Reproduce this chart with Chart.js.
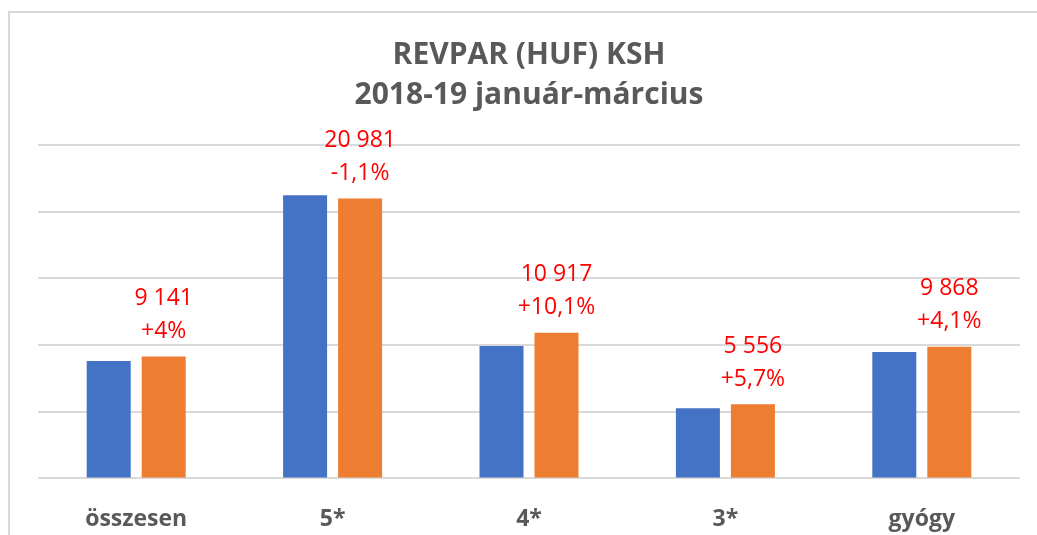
<!DOCTYPE html>
<html>
<head>
<meta charset="utf-8">
<script src="https://cdn.jsdelivr.net/npm/chart.js@4"></script>
<style>
html,body{margin:0;padding:0;background:#fff;}
#wrap{position:relative;width:1037px;height:535px;}
</style>
</head>
<body>
<div id="wrap"><canvas id="c" width="1037" height="535"></canvas></div>
<script>
const categories = ['összesen', '5*', '4*', '3*', 'gyógy'];
const values2018 = [8789, 21214, 9915, 5256, 9479];
const values2019 = [9141, 20981, 10917, 5556, 9868];
const changeLabels = ['+4%', '-1,1%', '+10,1%', '+5,7%', '+4,1%'];
const titleLines = ['REVPAR (HUF) KSH', '2018-19 január-március'];

const FONT = "'Open Sans', sans-serif";

function fmt(v){
  return String(v).replace(/\B(?=(\d{3})+(?!\d))/g, ' ');
}

const frame = {
  id: 'frame',
  beforeDraw(chart){
    const ctx = chart.ctx;
    ctx.save();
    ctx.fillStyle = '#fff';
    ctx.fillRect(0,0,chart.width,chart.height);
    ctx.strokeStyle = '#d9d9d9';
    ctx.lineWidth = 2;
    ctx.strokeRect(9, 12, chart.width + 20, chart.height + 20);
    ctx.restore();
  }
};

const valueLabels = {
  id: 'valueLabels',
  afterDatasetsDraw(chart){
    const ctx = chart.ctx;
    const meta = chart.getDatasetMeta(1);
    ctx.save();
    ctx.fillStyle = '#ff0000';
    ctx.font = "23px " + FONT;
    ctx.textAlign = 'center';
    ctx.textBaseline = 'middle';
    meta.data.forEach((bar, i) => {
      ctx.fillText(fmt(values2019[i]), bar.x, bar.y - 58);
      ctx.fillText(changeLabels[i], bar.x, bar.y - 25);
    });
    ctx.restore();
  }
};

new Chart(document.getElementById('c'), {
  type: 'bar',
  data: {
    labels: categories,
    datasets: [
      { label: '2018', data: values2018, backgroundColor: '#4472C4', borderWidth: 0,
        categoryPercentage: 0.56, barPercentage: 0.8 },
      { label: '2019', data: values2019, backgroundColor: '#ED7D31', borderWidth: 0,
        categoryPercentage: 0.56, barPercentage: 0.8 }
    ]
  },
  options: {
    responsive: false,
    animation: false,
    layout: { padding: { left: 38, right: 17, top: 0, bottom: -17 } },
    plugins: {
      legend: { display: false },
      tooltip: { enabled: false },
      title: {
        display: true,
        text: titleLines,
        color: '#595959',
        font: { family: FONT, size: 30, weight: 'bold', lineHeight: 1.33 },
        padding: { top: 36, bottom: 29 }
      }
    },
    scales: {
      x: {
        grid: { display: false },
        border: { display: false },
        ticks: { color: '#595959', font: { family: FONT, size: 23, weight: 'bold' }, padding: 19 }
      },
      y: {
        min: 0, max: 25000,
        ticks: { display: false, stepSize: 5000 },
        grid: { color: '#d9d9d9', lineWidth: 2, drawTicks: false },
        border: { display: false }
      }
    }
  },
  plugins: [frame, valueLabels]
});
</script>
</body>
</html>
